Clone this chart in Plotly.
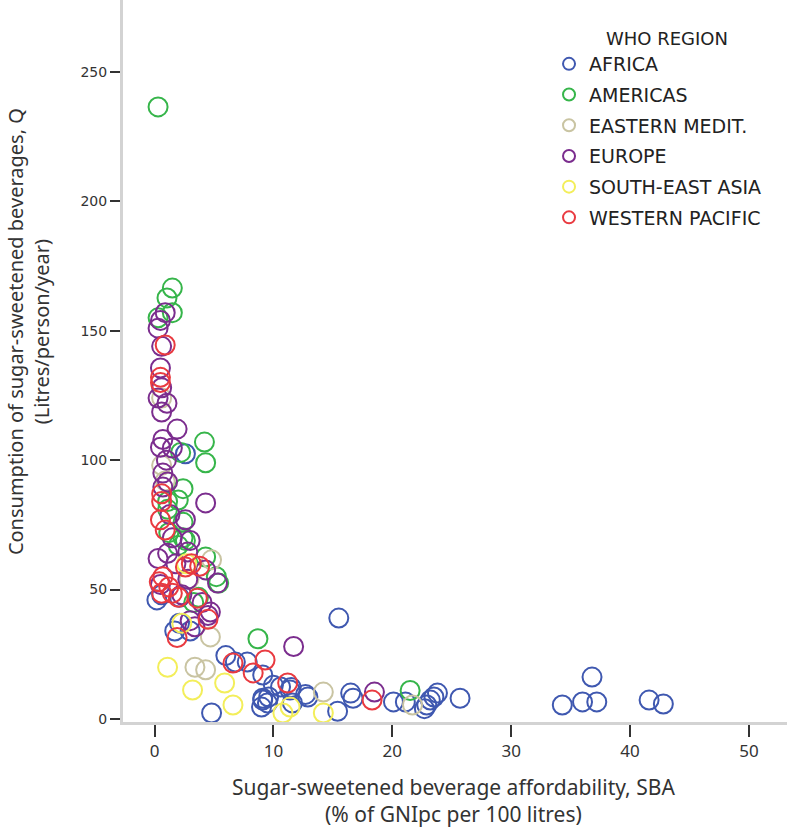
import plotly.graph_objects as go

regions = ["AFRICA", "AMERICAS", "EASTERN MEDIT.", "EUROPE", "SOUTH-EAST ASIA", "WESTERN PACIFIC"]
colors = ["#3f58b0", "#36b54a", "#c9c4a2", "#7b2d8e", "#f3ee5a", "#e93a40"]

africa_x = [15.5, 16.5, 16.7, 15.4, 20.1, 21.1, 22.7, 22.9, 23.2, 23.5, 23.8, 25.7, 34.3, 36.0, 36.8, 37.2, 41.6, 42.8,
            6.0, 6.8, 7.8, 9.1, 10.0, 10.6, 9.1, 9.5, 9.0, 11.4, 12.9, 11.6, 4.8,
            0.6, 2.1, 1.7, 3.0, 2.6, 0.2, 2.1, 9.1, 9.6, 11.5, 12.7]
africa_y = [39, 10, 8, 3, 6.6, 6.6, 4, 5.4, 7.3, 8.5, 10, 8, 5.4, 6.6, 16.2, 6.6, 7.3, 5.8,
            24.5, 22, 22, 17, 13, 12.4, 8, 6.2, 4.6, 11.2, 8.5, 6.2, 2.3,
            48, 47, 34, 34, 102.5, 46, 37, 7.3, 8.5, 12.2, 9.5]

americas_x = [0.3, 1.5, 1.05, 1.5, 0.3, 4.2, 4.3, 2.2, 2.4, 2.0, 1.1, 4.3, 5.2, 5.4, 2.0, 2.6, 3.7, 8.7, 21.5, 2.4, 1.2, 1.1, 2.4, 3.3]
americas_y = [236.5, 166.5, 162.7, 157, 155, 107, 99, 103, 89, 84.6, 81, 62.6, 55, 52.5, 67, 69, 47, 31, 11, 76, 72, 84, 70, 45]

emed_x = [0.6, 0.9, 4.8, 4.7, 3.4, 4.3, 14.2, 21.7, 0.6, 2.9]
emed_y = [98, 92, 61.5, 31.7, 20, 19, 10.4, 5.4, 124, 54]

europe_x = [0.9, 0.5, 0.3, 0.6, 0.5, 0.6, 0.3, 1.05, 0.6, 1.9, 0.7, 0.5, 1.5, 0.7, 1.1, 0.7, 4.3, 1.5, 0.3, 1.1,
            2.8, 3.0, 4.3, 4.7, 4.5, 3.0, 4.0, 2.3, 2.6, 5.3, 3.4, 11.7, 18.5, 1.0, 1.8, 0.5, 2.8, 1.3]
europe_y = [157, 154, 151, 144, 135.6, 128, 124, 122, 118.6, 112, 108, 105, 104.7, 95, 91.6, 89.6, 83.5, 70, 62, 64,
            64.5, 69, 57.6, 41.3, 40, 38, 45, 48, 77, 52.5, 35.6, 28, 10.4, 100, 60, 52, 54, 79]

sea_x = [1.1, 3.2, 5.9, 6.6, 11.4, 14.2, 10.8, 2.3, 2.7]
sea_y = [20, 11.2, 13.9, 5.4, 4.6, 2.3, 2.3, 37, 60]

wpac_x = [0.9, 0.5, 0.5, 0.6, 0.6, 0.5, 0.9, 0.7, 0.6, 1.5, 2.6, 3.8, 3.6, 4.5, 1.9, 6.6, 8.3, 9.3, 11.2, 18.3,
          0.4, 1.2, 2.0, 3.1]
wpac_y = [144.5, 132, 130, 87, 84, 77, 73, 55, 48.6, 48.6, 58.7, 59, 46.7, 38.5, 31.5, 21.6, 17.8, 22.8, 13.9, 7.3,
          53, 51, 47, 60]

xs = [africa_x, americas_x, emed_x, europe_x, sea_x, wpac_x]
ys = [africa_y, americas_y, emed_y, europe_y, sea_y, wpac_y]

x_ticks = [0, 10, 20, 30, 40, 50]
y_ticks = [0, 50, 100, 150, 200, 250]

fig = go.Figure()
for name, c, x, y in zip(regions, colors, xs, ys):
    fig.add_trace(go.Scatter(
        x=x, y=y, mode="markers", name=name, legendgroup=name,
        marker=dict(symbol="circle-open", size=19, color=c, line=dict(width=2, color=c)),
    ))

fig.update_layout(
    width=787, height=832,
    margin=dict(l=123, r=0, t=0, b=110),
    paper_bgcolor="white", plot_bgcolor="white",
    showlegend=True,
    legend=dict(
        x=0.6416, y=(722 - 45) / 722, xanchor="left", yanchor="top",
        bgcolor="rgba(0,0,0,0)",
        font=dict(family="DejaVu Sans", size=19, color="#222"),
        tracegroupgap=3, itemsizing="constant",
    ),
    xaxis=dict(
        range=[-2.65, 53.2], tickvals=x_ticks, showgrid=False, zeroline=False,
        showline=True, linecolor="#d3d3d3", linewidth=3,
        ticks="outside", ticklen=12, tickwidth=2, tickcolor="#333",
        tickfont=dict(family="Noto Sans", size=17, color="#333"),
    ),
    yaxis=dict(
        range=[-1.16, 277.8], tickvals=y_ticks, showgrid=False, zeroline=False,
        showline=True, linecolor="#d3d3d3", linewidth=3,
        ticks="outside", ticklen=10, tickwidth=2, tickcolor="#333",
        tickfont=dict(family="DejaVu Sans", size=14, color="#333"),
    ),
    annotations=[
        dict(text="WHO REGION", xref="paper", yref="paper", x=(667 - 123) / 664, y=(722 - 38) / 722,
             xanchor="center", yanchor="middle", showarrow=False,
             font=dict(family="DejaVu Sans", size=18, color="#222")),
        dict(text="Sugar-sweetened beverage affordability, SBA<br>(% of GNIpc per 100 litres)",
             xref="paper", yref="paper", x=0.497, y=(722 - 800) / 722, xanchor="center", yanchor="middle",
             showarrow=False, font=dict(family="Noto Sans", size=21, color="#333")),
        dict(text="Consumption of sugar-sweetened beverages, Q<br>(Litres/person/year)",
             xref="paper", yref="paper", x=(28 - 123) / 664, y=0.540, xanchor="center", yanchor="middle",
             textangle=-90, showarrow=False, font=dict(family="Noto Sans", size=20, color="#333")),
    ],
)

fig.write_html("out.html", config={"displayModeBar": False},
               post_script="document.body.style.margin='0px';")
